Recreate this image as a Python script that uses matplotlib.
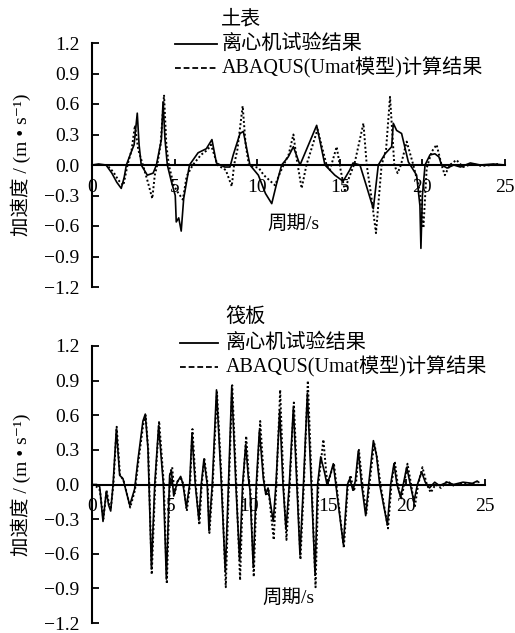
#!/usr/bin/env python3

"""Acceleration time histories: centrifuge test vs. ABAQUS (Umat) model."""

import matplotlib
matplotlib.use("Agg")
from matplotlib import pyplot
from matplotlib.lines import Line2D
from matplotlib.ticker import FuncFormatter

# soil surface (土表)
TOP_T_TEST = [0.0, 0.4, 0.85, 1.2, 1.5, 1.77, 1.95, 2.08, 2.38, 2.55, 2.74, 2.85, 2.98,
              3.35, 3.7, 3.9, 4.09, 4.2, 4.3, 4.42, 4.56, 4.8, 5.04, 5.1, 5.25, 5.4, 5.55,
              5.9, 6.42, 6.92, 7.26, 7.53, 8.03, 8.35, 8.55, 8.96, 9.16, 9.56, 10.07, 10.5,
              10.88, 11.18, 11.48, 11.88, 12.19, 12.59, 13.6, 14.1, 14.7, 15.2, 15.6, 15.8,
              16.22, 16.6, 17.03, 17.33, 17.74, 18.14, 18.24, 18.44, 18.74, 19.15, 19.65,
              19.85, 19.91, 20.0, 20.16, 20.46, 20.76, 21.0, 21.16, 21.5, 21.9, 22.3, 22.9,
              23.5, 24.3, 25.0]
TOP_A_TEST = [0.0, 0.01, 0.0, -0.08, -0.17, -0.23, -0.12, 0.0, 0.13, 0.2, 0.51, 0.2, 0.0,
              -0.1, -0.08, 0.0, 0.16, 0.25, 0.62, 0.25, 0.0, -0.16, -0.3, -0.56, -0.52, -0.65,
              -0.33, 0.0, 0.12, 0.16, 0.25, 0.02, -0.02, -0.02, 0.1, 0.31, 0.33, 0.0, -0.1,
              -0.28, -0.38, -0.18, 0.0, 0.08, 0.18, 0.0, 0.39, 0.0, -0.1, -0.16, -0.05, 0.02,
              0.0, -0.2, -0.43, 0.0, 0.11, 0.18, 0.41, 0.34, 0.31, 0.03, -0.1,
              -0.4, -0.82, -0.3, 0.0, 0.1, 0.11, 0.08, 0.0, -0.03, 0.0, -0.02, 0.02,
              0.0, 0.01, 0.0]

TOP_T_FEM = [0.0, 0.9, 1.3, 1.6, 1.9, 2.15, 2.4, 2.6, 2.8, 3.08, 3.35, 3.65, 3.8, 3.95,
             4.15, 4.36, 4.5, 4.65, 4.95, 5.2, 5.5, 5.73, 6.1, 6.6, 7.0, 7.2, 7.6, 8.1,
             8.46, 8.6, 8.8, 9.12, 9.3, 9.5, 10.1, 10.4, 11.08, 11.4, 11.6, 11.9, 12.19,
             12.4, 12.69, 12.98, 13.65, 14.2, 14.4, 14.81, 15.05, 15.3, 15.5, 15.9, 16.43,
             16.63, 16.9, 17.19, 17.53, 17.8, 18.04, 18.3, 18.5, 18.7, 19.05, 19.45, 19.85,
             20.06, 20.26, 20.56, 20.86, 21.16, 21.36, 21.66, 22.06, 22.46, 23.0, 23.6,
             24.2, 24.6]
TOP_A_FEM = [0.0, 0.0, -0.07, -0.15, -0.2, 0.0, 0.15, 0.39, 0.15, 0.0, -0.15, -0.33, -0.1, 0.0,
             0.2, 0.69, 0.2, 0.0, -0.2, -0.27, -0.34, -0.11, 0.0, 0.1, 0.15, 0.2, 0.0, -0.05,
             -0.21, 0.0, 0.15, 0.58, 0.2, 0.0, -0.03, -0.1, -0.2, -0.07, 0.0, 0.1, 0.3,
             0.05, -0.23, 0.0, 0.35, 0.0, -0.05, 0.18, -0.05, -0.25, -0.15, 0.02, 0.41,
             0.0, -0.3, -0.67, 0.0, 0.15, 0.67, 0.0, -0.08, 0.0, 0.23, 0.0, -0.26,
             -0.62, -0.03, 0.13, 0.2, 0.0, -0.1, 0.0, 0.05, -0.02, 0.01, -0.01,
             0.0, 0.01]

# raft (筏板)
BOT_T_TEST = [0.0, 0.3, 0.49, 0.7, 0.91, 1.06, 1.19, 1.34, 1.55, 1.76, 1.97, 2.4, 2.71,
              2.93, 3.24, 3.39, 3.56, 3.78, 3.99, 4.24, 4.54, 4.73, 4.94, 5.05, 5.2, 5.42,
              5.64, 5.79, 6.0, 6.21, 6.36, 6.57, 6.8, 6.95, 7.12, 7.33, 7.44, 7.65, 7.92,
              8.23, 8.48, 8.68, 8.89, 9.15, 9.39, 9.58, 9.78, 9.95, 10.05, 10.26, 10.45,
              10.65, 10.9, 11.05, 11.2, 11.53, 11.7, 11.94, 12.15, 12.34, 12.55, 12.81,
              13.03, 13.23, 13.45, 13.7, 13.95, 14.19, 14.35, 14.55, 14.8, 14.95, 15.15,
              15.35, 15.6, 15.99, 16.25, 16.4, 16.6, 16.75, 16.94, 17.15, 17.41, 17.6, 17.9,
              18.1, 18.3, 18.79, 19.0, 19.21, 19.4, 19.63, 19.8, 20.02, 20.25, 20.48, 20.7,
              20.97, 21.2, 21.47, 21.8, 22.1, 22.6, 23.0, 23.6, 24.2, 24.5, 24.6]
BOT_A_TEST = [0.0, 0.0, -0.02, -0.32, -0.06, -0.18, -0.23, 0.0, 0.48, 0.08, 0.05, -0.18, -0.04,
              0.22, 0.55, 0.61, 0.31, -0.73, 0.0, 0.51, 0.0, -0.82, 0.08, 0.12, -0.1, 0.02,
              0.07, 0.0, -0.2, 0.0, 0.44, 0.0, -0.31, 0.0, 0.22, 0.0, -0.4, 0.0, 0.82,
              0.0, -0.76, 0.0, 0.85, 0.0, -0.66, 0.0, 0.35, 0.05, -0.05, -0.72, 0.0,
              0.47, 0.05, -0.08, -0.03, -0.32, 0.0, 0.64, 0.0, -0.39, 0.0, 0.67,
              0.0, -0.61, 0.0, 0.79, 0.0, -0.78, 0.0, 0.24, 0.1, 0.0, 0.08,
              0.18, -0.1, -0.52, 0.0, 0.05, -0.05, 0.03, 0.29, 0.0, -0.27, 0.0, 0.38,
              0.25, 0.0, -0.35, 0.0, 0.18, 0.0, -0.11, 0.0, 0.15, 0.0, -0.15, 0.0,
              0.11, 0.02, -0.03, 0.02, -0.01, 0.02, 0.0, 0.02, 0.01, 0.03, 0.02]

BOT_T_FEM = [0.0, 0.3, 0.5, 0.72, 0.93, 1.08, 1.2, 1.36, 1.57, 1.78, 2.0, 2.43, 2.73, 2.95,
             3.26, 3.41, 3.58, 3.8, 4.02, 4.27, 4.57, 4.76, 4.97, 5.1, 5.25, 5.45, 5.68,
             5.82, 6.03, 6.24, 6.39, 6.6, 6.83, 6.98, 7.15, 7.36, 7.47, 7.68, 7.95, 8.26,
             8.51, 8.71, 8.92, 9.18, 9.42, 9.61, 9.81, 9.98, 10.08, 10.29, 10.48, 10.7,
             10.93, 11.08, 11.23, 11.56, 11.73, 11.97, 12.18, 12.37, 12.58, 12.84, 13.06,
             13.26, 13.48, 13.73, 13.98, 14.22, 14.4, 14.72, 14.9, 15.0, 15.2, 15.4, 15.65,
             16.02, 16.28, 16.45, 16.65, 16.8, 16.98, 17.2, 17.45, 17.65, 17.95, 18.15,
             18.35, 18.83, 19.05, 19.26, 19.45, 19.68, 19.85, 20.07, 20.3, 20.53, 20.75,
             21.02, 21.3, 21.55, 21.85, 22.2, 22.6, 23.0, 23.6, 24.2, 24.5]
BOT_A_FEM = [0.0, -0.02, -0.05, -0.3, -0.05, -0.17, -0.2, 0.0, 0.5, 0.08, 0.04, -0.2, -0.05, 0.2,
             0.52, 0.6, 0.3, -0.78, 0.0, 0.55, 0.0, -0.86, 0.1, 0.15, -0.08, 0.03, 0.05,
             0.0, -0.23, 0.0, 0.48, 0.0, -0.35, 0.0, 0.22, 0.0, -0.42, 0.0, 0.8, 0.0,
             -0.89, 0.0, 0.86, 0.0, -0.83, 0.0, 0.42, 0.05, -0.05, -0.8, 0.0, 0.55,
             0.05, -0.1, -0.05, -0.48, 0.0, 0.82, 0.0, -0.48, 0.0, 0.71, 0.0,
             -0.65, 0.0, 0.9, 0.0, -0.89, 0.0, 0.39, 0.1, 0.0, 0.1, 0.17, -0.12,
             -0.55, 0.0, 0.08, -0.06, 0.02, 0.3, 0.0, -0.25, 0.0, 0.36, 0.22,
             0.0, -0.38, 0.0, 0.2, 0.0, -0.13, 0.0, 0.18, 0.0, -0.2, 0.0,
             0.15, 0.0, -0.07, 0.0, -0.03, 0.03, -0.01, 0.01, 0.0, 0.02]

X_TICKS = [0, 5, 10, 15, 20, 25]
Y_TICKS = [-1.2, -0.9, -0.6, -0.3, 0.0, 0.3, 0.6, 0.9, 1.2]

TITLES = ["土表", "筏板"]
LEGEND = ["离心机试验结果", "ABAQUS(Umat模型)计算结果"]
YLABEL = "加速度 / (m • s⁻¹)"
XLABEL = "周期/s"

W, H = 515, 633
FEM_STYLE = (0, (1.0, 1.2))
LEGEND_DASH = (0, (3.2, 1.6))


def fx(px):
    return px / W


def fy(py):
    return 1 - py / H


def minus(v, pos):
    return "{:.1f}".format(v).replace("-", "\u2212")


def panel(fig, rect, t1, a1, t2, a2, title, title_xy, leg_x, leg_y, xlab_xy):
    ax = fig.add_axes(rect)
    ax.plot(t1, a1, color="black", linewidth=1.2)
    ax.plot(t2, a2, color="black", linewidth=1.4, linestyle=FEM_STYLE)

    ax.set_xlim(0, 25)
    ax.set_ylim(-1.2, 1.2)
    ax.spines["top"].set_visible(False)
    ax.spines["right"].set_visible(False)
    ax.spines["bottom"].set_position(("data", 0))
    ax.spines["bottom"].set_linewidth(1.5)
    ax.spines["left"].set_linewidth(1.5)
    ax.set_xticks(X_TICKS)
    ax.set_yticks(Y_TICKS)
    ax.yaxis.set_major_formatter(FuncFormatter(minus))
    ax.tick_params(axis="y", direction="in", length=5, width=1.3, pad=9, labelsize=14)
    ax.tick_params(axis="x", direction="in", length=4, width=1.3, pad=10, labelsize=14)
    ax.set_ylabel(YLABEL, fontsize=14, labelpad=9)
    ax.text(xlab_xy[0], xlab_xy[1], XLABEL, fontsize=14, ha="center", va="center")

    # title and hand-placed legend above the axes
    fig.text(fx(title_xy[0]), fy(title_xy[1]), title, fontsize=14.5, ha="center", va="center")
    styles = ["-", LEGEND_DASH]
    for i, (label, ls) in enumerate(zip(LEGEND, styles)):
        y = leg_y[i]
        fig.add_artist(Line2D([fx(leg_x[0]), fx(leg_x[1])], [fy(y), fy(y)],
                              color="black", linewidth=1.3, linestyle=ls))
        fig.text(fx(leg_x[2]), fy(y), label, fontsize=14.5, ha="left", va="center")
    return ax


def main():
    pyplot.rcParams["font.family"] = ["Liberation Serif", "Noto Sans CJK SC", "DejaVu Serif"]
    fig = pyplot.figure(figsize=(W / 100, H / 100), dpi=100)

    panel(fig, [fx(92), fy(287), fx(505 - 92), (287 - 43) / H],
          TOP_T_TEST, TOP_A_TEST, TOP_T_FEM, TOP_A_FEM,
          TITLES[0], (241, 20), (175, 217, 222), (44, 68), (12.2, -0.58))
    panel(fig, [fx(92), fy(623), fx(485 - 92), (623 - 346) / H],
          BOT_T_TEST, BOT_A_TEST, BOT_T_FEM, BOT_A_FEM,
          TITLES[1], (245, 318), (180, 218, 226), (343, 367), (12.5, -0.98))

    fig.savefig("out.png", dpi=100)


if __name__ == "__main__":
    main()
